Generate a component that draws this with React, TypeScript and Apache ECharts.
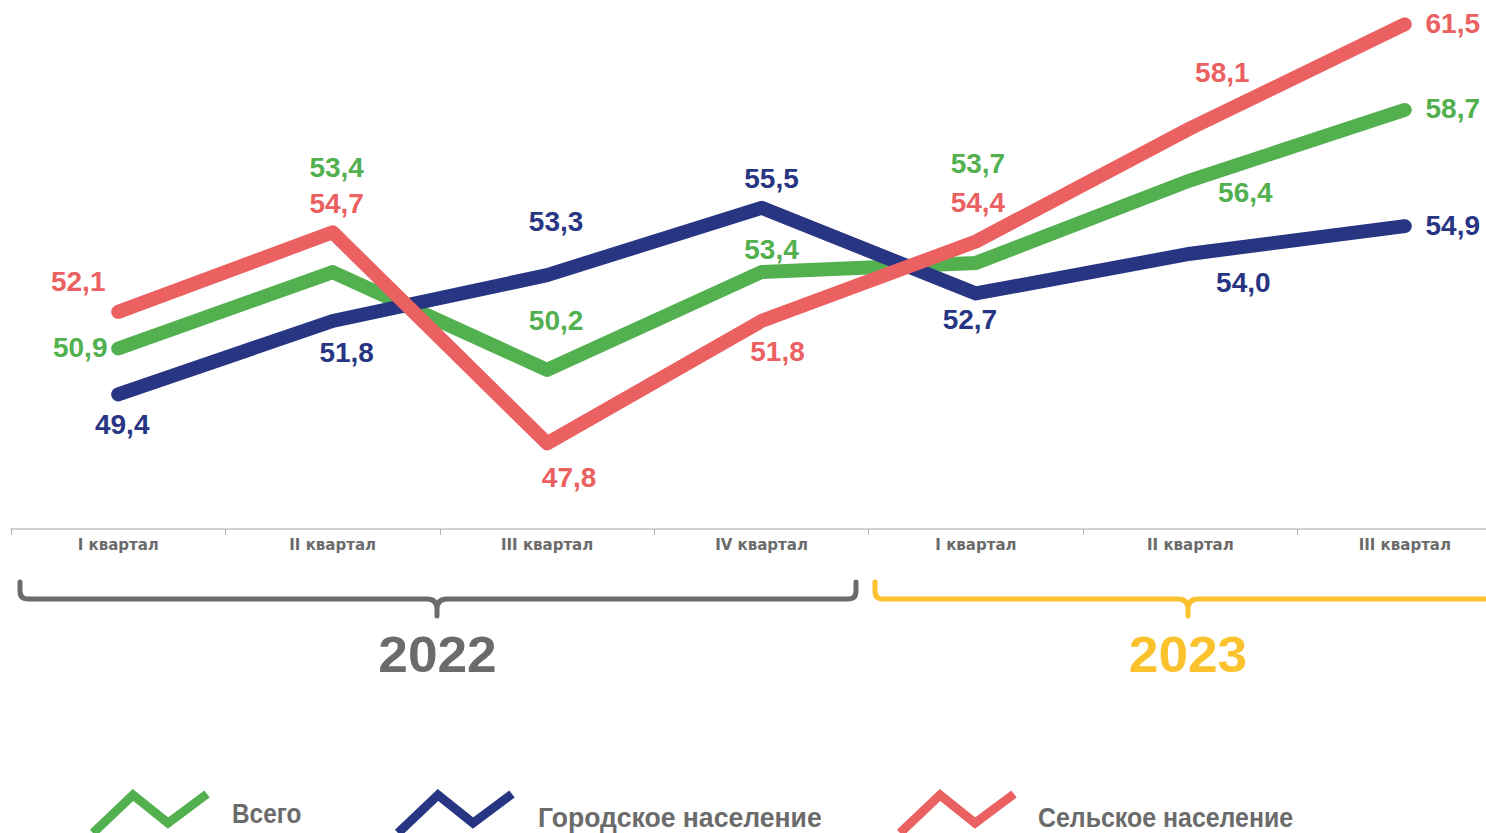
import React, { useEffect, useRef } from "react";
import * as echarts from "echarts";

const categories = ["I квартал", "II квартал", "III квартал", "IV квартал", "I квартал", "II квартал", "III квартал"];
const totalValues = [50.9, 53.4, 50.2, 53.4, 53.7, 56.4, 58.7];
const urbanValues = [49.4, 51.8, 53.3, 55.5, 52.7, 54.0, 54.9];
const ruralValues = [52.1, 54.7, 47.8, 51.8, 54.4, 58.1, 61.5];
const seriesNames = ["Всего", "Городское население", "Сельское население"];
const years = ["2022", "2023"];

// label offsets (layout only)
const totalOffsets = [[-38, -1], [4, -105], [9, -49], [10, -23], [2, -99], [55, 12], [48, -1]];
const urbanOffsets = [[4, 30], [14, 31], [9, -54], [10, -29], [-6, 26], [53, 29], [48, -1]];
const ruralOffsets = [[-40, -30], [4, -29], [22, 34], [16, 30], [2, -39], [32, -56], [48, -1]];

const GREEN = "#52B04F";
const BLUE = "#283583";
const RED = "#EB6060";
const GRAY = "#6b6b6b";
const YELLOW = "#FBC22E";
const FONT = "'Liberation Sans', Arial, sans-serif";

echarts.graphic.registerShape(
  "brace2022",
  echarts.graphic.extendPath(
    "M20 582 L20 591 Q20 599 28 599 L427 599 Q437 599 437 609 L437 616 M437 609 Q437 599 447 599 L848 599 Q856 599 856 591 L856 582",
    {}
  )
);
echarts.graphic.registerShape(
  "brace2023",
  echarts.graphic.extendPath(
    "M875 582 L875 591 Q875 599 883 599 L1178 599 Q1188 599 1188 609 L1188 616 M1188 609 Q1188 599 1198 599 L1500 599",
    {}
  )
);

function makeSeries(name: string, values: number[], offsets: number[][], color: string, z: number) {
  return {
    name,
    type: "line",
    data: values,
    showSymbol: true,
    symbol: "circle",
    symbolSize: 2,
    z,
    lineStyle: { color, width: 14, cap: "round", join: "round" },
    itemStyle: { color },
    label: {
      show: true,
      position: "inside",
      color,
      fontSize: 28,
      fontWeight: "bold",
      fontFamily: FONT,
      formatter: (p: any) => Number(p.value).toFixed(1).replace(".", ","),
    },
    labelLayout: (p: any) => ({
      dx: offsets[p.dataIndex][0],
      dy: offsets[p.dataIndex][1],
      hideOverlap: false,
    }),
    emphasis: { disabled: true },
  };
}

export default function App() {
  const ref = useRef<HTMLDivElement>(null);
  useEffect(() => {
    if (!ref.current) return;
    const chart = echarts.init(ref.current, undefined, { renderer: "svg" });
    const legendItems = [
      { x: 93, textX: 232, textY: 813, sx: 0.87, color: GREEN, name: seriesNames[0] },
      { x: 398, textX: 538, textY: 817.5, sx: 0.95, color: BLUE, name: seriesNames[1] },
      { x: 900, textX: 1038, textY: 817.5, sx: 0.89, color: RED, name: seriesNames[2] },
    ];
    const graphic: any[] = [
      { type: "brace2022", style: { stroke: GRAY, lineWidth: 5, fill: null, lineCap: "round", lineJoin: "round" } },
      { type: "brace2023", style: { stroke: YELLOW, lineWidth: 5, fill: null, lineCap: "round", lineJoin: "round" } },
      {
        type: "text",
        x: 437.5,
        y: 655,
        scaleX: 1.065,
        style: { text: years[0], fill: GRAY, font: `bold 50px ${FONT}`, align: "center", verticalAlign: "middle" },
      },
      {
        type: "text",
        x: 1188,
        y: 655,
        scaleX: 1.065,
        style: { text: years[1], fill: YELLOW, font: `bold 50px ${FONT}`, align: "center", verticalAlign: "middle" },
      },
    ];
    legendItems.forEach((it) => {
      graphic.push({
        type: "polyline",
        shape: {
          points: [
            [it.x, 833],
            [it.x + 40, 795],
            [it.x + 75, 823],
            [it.x + 114, 794],
          ],
        },
        style: { stroke: it.color, lineWidth: 9, fill: null, lineJoin: "miter" },
      });
      graphic.push({
        type: "text",
        x: it.textX,
        y: it.textY,
        scaleX: it.sx,
        style: { text: it.name, fill: GRAY, font: `bold 28px ${FONT}`, align: "left", verticalAlign: "middle" },
      });
    });

    chart.setOption({
      animation: false,
      backgroundColor: "#ffffff",
      grid: { left: 11, width: 1501, top: 9, bottom: 304, containLabel: false, outerBoundsMode: "none" },
      xAxis: {
        type: "category",
        data: categories,
        boundaryGap: true,
        axisLine: { show: true, lineStyle: { color: "#c4c4c4", width: 1.5 } },
        axisTick: { show: true, length: 6, lineStyle: { color: "#b0b0b0" } },
        axisLabel: {
          color: GRAY,
          fontSize: 15,
          fontWeight: "bold",
          fontFamily: "'DejaVu Sans', sans-serif",
          margin: 8,
        },
        splitLine: { show: false },
      },
      yAxis: {
        type: "value",
        min: 45,
        max: 62,
        show: false,
        splitLine: { show: false },
      },
      series: [
        makeSeries(seriesNames[0], totalValues, totalOffsets, GREEN, 2),
        makeSeries(seriesNames[1], urbanValues, urbanOffsets, BLUE, 3),
        makeSeries(seriesNames[2], ruralValues, ruralOffsets, RED, 4),
      ],
      graphic,
    });
    return () => chart.dispose();
  }, []);
  return (
    <div
      ref={ref}
      style={{ position: "fixed", left: 0, top: 0, width: 1486, height: 833, background: "#fff" }}
    />
  );
}
